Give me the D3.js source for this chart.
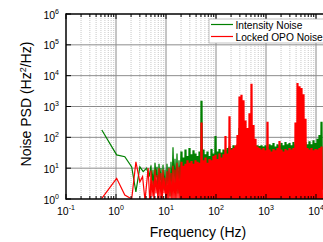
<!DOCTYPE html>
<html>
<head>
<meta charset="utf-8">
<script src="https://cdn.jsdelivr.net/npm/d3@7"></script>
<style>
  html, body { margin: 0; padding: 0; background: #fff; overflow: hidden; }
  svg { display: block; font-family: Arial, "Liberation Sans", sans-serif; }
</style>
</head>
<body>
<svg id="chart"></svg>
<script>
const width = 323, height = 242;

// TICKS
const xTickExps = [-1, 0, 1, 2, 3, 4];
const yTickExps = [0, 1, 2, 3, 4, 5, 6];
const seriesNames = ['Intensity Noise', 'Locked OPO Noise'];

// LOW FREQUENCY PART (read point by point)
const greenLowF = [0.52, 1.03, 1.5, 2.06, 2.5, 3.0, 3.5, 4.1, 4.6, 5.0];
const greenLowV = [173, 27, 23.5, 11, 1.7, 11, 7.7, 10, 5.3, 12];
const redLowF = [0.52, 1.03, 1.5, 2.06, 2.5, 3.0, 3.4, 3.8, 4.4, 4.8, 5.0];
const redLowV = [1.05, 4.7, 1.35, 1.0, 16, 3.6, 5.3, 0.9, 10, 0.5, 8];

// DENSE PART: peak / dip per bin, bins start at 5 Hz, 0.04 decade wide
const binStartLog = 0.7, binStep = 0.04;
const greenHi = [12, 9, 15, 11, 14, 10, 13, 9, 14, 11, 16, 48, 20, 30, 18, 35, 22, 40, 25, 45,
  28, 38, 30, 25, 35, 1550, 40, 28, 35, 25, 42, 30, 110, 35, 42, 32, 40, 38, 45, 50,
  45, 55, 50, 60, 200, 300, 150, 60, 60, 60, 80, 60, 55, 55, 52, 55, 50, 55, 50, 60,
  55, 65, 50, 60, 55, 65, 55, 70, 60, 65, 55, 70, 60, 200, 200, 200, 150, 70, 60, 75,
  60, 80, 65, 90, 120, 320];
const greenLo = [3, 2, 5, 1.5, 4, 0.8, 2, 0.5, 3, 1.2, 2, 3, 2, 1.5, 3, 2, 1.5, 3, 2, 1.5,
  2, 2, 1.5, 2, 1.5, 2, 2, 1.5, 2, 2, 1.5, 2, 2, 1.5, 2, 2, 1.5, 2, 2, 1.5,
  2, 1.5, 2, 1.5, 2.5, 3, 2.5, 2, 2, 1.5, 2, 1.5, 2, 1.5, 2, 1.5, 2, 1.5, 2, 1.5,
  2, 1.5, 2, 1.5, 2, 1.5, 2, 1.5, 2, 1.5, 2, 1.5, 2, 2, 1.5, 2, 1.5, 2, 1.5, 2,
  1.5, 2, 1.5, 2, 1.5, 2];
const redHi = [8, 4, 9, 6, 10, 7, 9, 5, 8, 10, 7, 12, 9, 15, 11, 16, 12, 14, 18, 15,
  17, 14, 18, 16, 15, 300, 18, 22, 15, 20, 18, 25, 27, 20, 30, 22, 28, 110, 30, 480,
  40, 45, 55, 120, 2100, 2400, 1600, 350, 200, 600, 5500, 250, 90, 50, 45, 40, 45, 38, 320, 40,
  35, 42, 38, 45, 76, 40, 35, 42, 38, 45, 40, 45, 300, 5800, 4500, 4000, 2500, 400, 45, 40,
  45, 38, 42, 40, 45, 50];
const redLo = [1.2, 0.8, 1.5, 0.6, 1, 0.5, 1.5, 0.6, 0.5, 1, 0.5, 0.6, 0.5, 0.8, 0.5, 0.5, 0.4, 0.5, 0.4, 0.3,
  0.3, 0.3, 0.3, 0.3, 0.3, 0.3, 0.3, 0.3, 0.3, 0.3, 0.3, 0.3, 0.3, 0.3, 0.3, 0.3, 0.3, 0.3, 0.3, 0.3,
  0.3, 0.3, 0.3, 0.3, 0.3, 0.3, 0.3, 0.3, 0.3, 0.3, 0.3, 0.3, 0.3, 0.3, 0.3, 0.3, 0.3, 0.3, 0.3, 0.3,
  0.3, 0.3, 0.3, 0.3, 0.3, 0.3, 0.3, 0.3, 0.3, 0.3, 0.3, 0.3, 0.3, 0.3, 0.3, 0.3, 0.3, 0.3, 0.3, 0.3,
  0.3, 0.3, 0.3, 0.3, 0.3, 0.3];

const margin = { left: 66, top: 14, bottom: 199 };

const x = d3.scaleLog().domain([0.1, 1e4]).range([66, 316]);
const y = d3.scaleLog().domain([1, 1e6]).range([199, 14]);

// BUILD SERIES POINTS (above ~20 Hz the trace swings twice per bin)
function buildSeries(lowF, lowV, hi, lo) {
  const pts = lowF.map((f, i) => [f, lowV[i]]);
  hi.forEach((v, k) => {
    const lf = binStartLog + binStep * k;
    const swings = k < 15 ? 1 : 2;
    const sub = binStep / (2 * swings);
    for (let s = 0; s < swings; s++) {
      pts.push([Math.pow(10, lf + sub * 2 * s), v]);
      pts.push([Math.pow(10, lf + sub * (2 * s + 1)), lo[k]]);
    }
  });
  return pts;
}
const greenData = buildSeries(greenLowF, greenLowV, greenHi, greenLo);
const redData = buildSeries(redLowF, redLowV, redHi, redLo);

const svg = d3.select('#chart').attr('width', width).attr('height', height);

svg.append('defs').append('clipPath').attr('id', 'plotclip')
  .append('rect').attr('x', margin.left).attr('y', margin.top)
  .attr('width', width - margin.left).attr('height', margin.bottom - margin.top);

// GRID
const minorX = [];
for (let e = -1; e < 5; e++) for (let m = 2; m <= 9; m++) minorX.push(m * Math.pow(10, e));
const grid = svg.append('g');
grid.selectAll('.minor').data(minorX.filter(f => x(f) < width)).enter().append('line')
  .attr('x1', d => x(d)).attr('x2', d => x(d))
  .attr('y1', margin.top).attr('y2', margin.bottom)
  .attr('stroke', '#c8c8c8').attr('stroke-width', 1).attr('stroke-dasharray', '1,1');
grid.selectAll('.majx').data(xTickExps.slice(1)).enter().append('line')
  .attr('x1', d => x(Math.pow(10, d))).attr('x2', d => x(Math.pow(10, d)))
  .attr('y1', margin.top).attr('y2', margin.bottom)
  .attr('stroke', '#8c8c8c').attr('stroke-width', 1);
grid.selectAll('.majy').data(yTickExps.slice(1, -1)).enter().append('line')
  .attr('x1', margin.left).attr('x2', width)
  .attr('y1', d => y(Math.pow(10, d))).attr('y2', d => y(Math.pow(10, d)))
  .attr('stroke', '#8c8c8c').attr('stroke-width', 1);

// LINES
const line = d3.line().x(d => x(d[0])).y(d => y(d[1]));
const plot = svg.append('g').attr('clip-path', 'url(#plotclip)');
plot.append('path').datum(greenData).attr('d', line)
  .attr('fill', 'none').attr('stroke', '#008000').attr('stroke-width', 1.2);
plot.append('path').datum(redData).attr('d', line)
  .attr('fill', 'none').attr('stroke', '#ff0000').attr('stroke-width', 1.2);

// FRAME
const frame = svg.append('g').attr('stroke', '#000').attr('stroke-width', 1.5);
frame.append('line').attr('x1', margin.left).attr('x2', margin.left).attr('y1', margin.top - 0.75).attr('y2', margin.bottom + 0.75);
frame.append('line').attr('x1', margin.left).attr('x2', width).attr('y1', margin.top).attr('y2', margin.top);
frame.append('line').attr('x1', margin.left).attr('x2', width).attr('y1', margin.bottom).attr('y2', margin.bottom);

// TICKS (inside)
const tickG = svg.append('g').attr('stroke', '#000').attr('stroke-width', 1);
const minorVis = minorX.filter(f => x(f) < width);
tickG.selectAll('.tt').data(minorVis).enter().append('line')
  .attr('x1', d => x(d)).attr('x2', d => x(d)).attr('y1', margin.top).attr('y2', margin.top + 3);
tickG.selectAll('.tb').data(minorVis).enter().append('line')
  .attr('x1', d => x(d)).attr('x2', d => x(d)).attr('y1', margin.bottom).attr('y2', margin.bottom - 3);
tickG.selectAll('.TT').data(xTickExps).enter().append('line')
  .attr('x1', d => x(Math.pow(10, d))).attr('x2', d => x(Math.pow(10, d)))
  .attr('y1', margin.top).attr('y2', margin.top + 5);
tickG.selectAll('.TB').data(xTickExps).enter().append('line')
  .attr('x1', d => x(Math.pow(10, d))).attr('x2', d => x(Math.pow(10, d)))
  .attr('y1', margin.bottom).attr('y2', margin.bottom - 5);
tickG.selectAll('.TL').data(yTickExps).enter().append('line')
  .attr('x1', margin.left).attr('x2', margin.left + 5)
  .attr('y1', d => y(Math.pow(10, d))).attr('y2', d => y(Math.pow(10, d)));

// TICK LABELS
const xl = svg.append('g').attr('font-size', 10.5).attr('fill', '#000');
xTickExps.forEach(e => {
  const t = xl.append('text').attr('x', x(Math.pow(10, e))).attr('y', 215).attr('text-anchor', 'middle');
  t.append('tspan').text('10');
  t.append('tspan').attr('dy', -5).attr('font-size', 7).text(e);
});
yTickExps.forEach(e => {
  const t = xl.append('text').attr('x', 59).attr('y', y(Math.pow(10, e)) + 4.5).attr('text-anchor', 'end');
  t.append('tspan').text('10');
  t.append('tspan').attr('dy', -5).attr('font-size', 7).text(e);
});

// AXIS TITLES
svg.append('text').attr('x', 198).attr('y', 237).attr('text-anchor', 'middle')
  .attr('font-size', 14).text('Frequency (Hz)');
const yt = svg.append('text').attr('transform', 'translate(31,104) rotate(-90)')
  .attr('text-anchor', 'middle').attr('font-size', 14);
yt.append('tspan').text('Noise PSD (Hz');
yt.append('tspan').attr('dy', -5).attr('font-size', 9).text('2');
yt.append('tspan').attr('dy', 5).text('/Hz)');

// LEGEND
const legend = svg.append('g');
legend.append('rect').attr('x', 209).attr('y', 19).attr('width', 130).attr('height', 24)
  .attr('fill', '#fff').attr('stroke', '#aaa').attr('stroke-width', 0.7);
const legendColors = ['#008000', '#ff0000'];
seriesNames.forEach((name, i) => {
  const ly = 24.5 + i * 12;
  legend.append('line').attr('x1', 211).attr('x2', 233).attr('y1', ly).attr('y2', ly)
    .attr('stroke', legendColors[i]).attr('stroke-width', 1.2);
  legend.append('text').attr('x', 235.5).attr('y', ly + 4).attr('font-size', 10.2).text(name);
});
</script>
</body>
</html>
